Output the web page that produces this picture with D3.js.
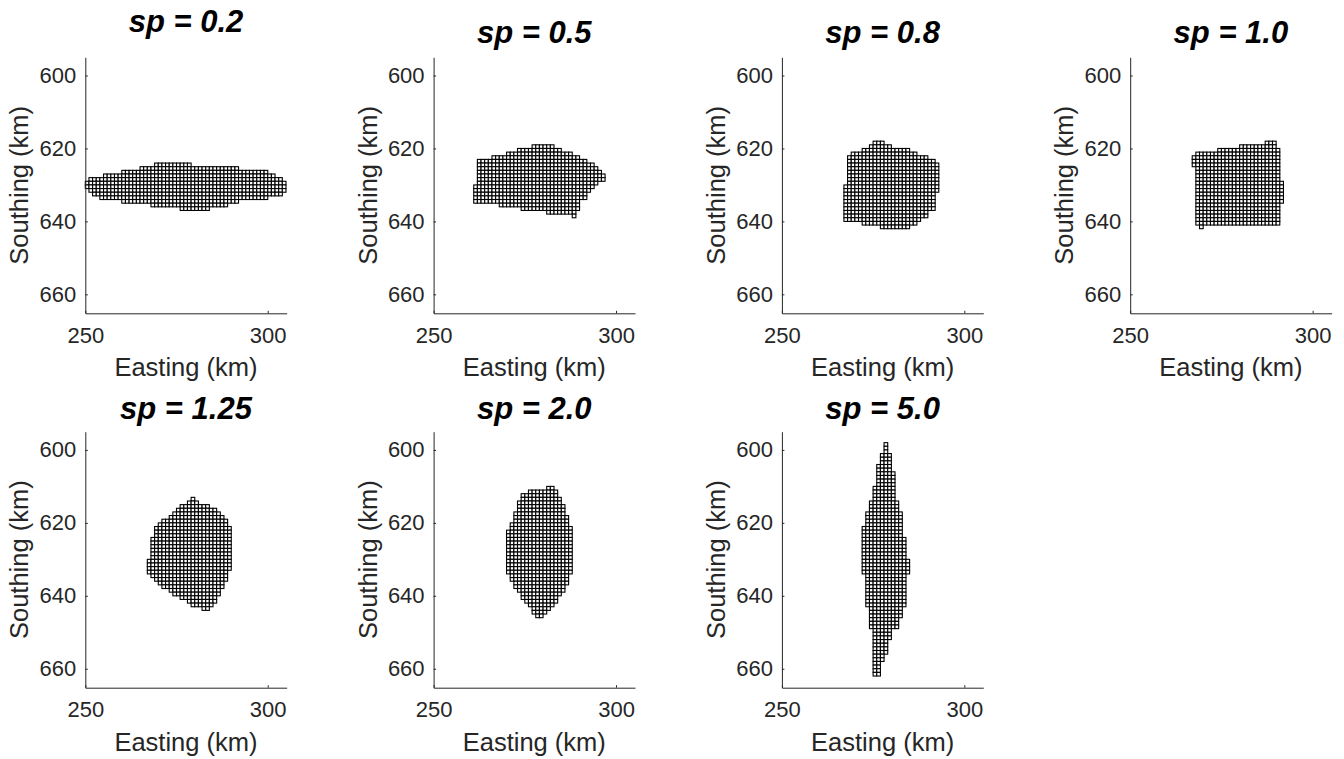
<!DOCTYPE html>
<html>
<head>
<meta charset="utf-8">
<script src="https://cdn.jsdelivr.net/npm/d3@7"></script>
<style>
  body { margin: 0; background: #fff; }
  svg { display: block; }
  text { font-family: "Liberation Sans", Arial, sans-serif; }
</style>
</head>
<body>
<svg width="1344" height="759"></svg>
<script>
// panel titles
const titles = ["sp = 0.2", "sp = 0.5", "sp = 0.8", "sp = 1.0", "sp = 1.25", "sp = 2.0", "sp = 5.0"];
const xTicks = [250, 300];
const yTicks = [600, 620, 640, 660];

// each shape: southing of first row, then left / right easting edge of every 1 km row
const top02 = 624;
const left02 = [269,265,260,255,251,250,250,251,252,254,260,268,276];
const right02 = [279,292,300,302,304,305,305,305,304,300,292,289,284];

const top05 = 619;
const left05 = [277,273,270,266,262,262,262,262,262,262,262,261,261,261,261,261,268,274,281,288];
const right05 = [283,285,288,290,292,294,295,296,297,297,295,294,293,292,292,290,290,290,289,289];

const top08 = 618;
const left08 = [275,274,272,269,268,268,268,268,268,268,268,268,267,267,267,267,267,267,267,267,267,267,272,277];
const right08 = [278,280,285,287,290,292,293,293,293,293,293,293,293,293,292,292,292,292,292,290,290,288,287,285];

const top10 = 618;
const left10 = [287,280,274,268,267,267,267,268,268,268,268,268,268,268,268,268,268,268,268,268,268,268,268,269];
const right10 = [290,290,291,291,291,291,291,291,291,291,291,292,292,292,292,292,292,291,291,291,291,291,291,270];

const top125 = 613;
const left125 = [279,278,276,275,274,273,271,270,269,269,269,268,268,268,268,268,268,267,267,267,267,268,269,270,271,273,274,276,278,279,282];
const right125 = [280,281,284,286,287,288,289,289,290,290,290,290,290,290,290,290,290,290,290,290,289,289,289,288,288,287,287,286,286,285,284];

const top20 = 610;
const left20 = [281,276,274,274,273,273,273,272,272,272,271,271,270,270,270,270,270,270,270,270,270,270,270,270,271,271,272,272,273,274,274,275,276,277,277,278];
const right20 = [283,284,284,285,285,286,286,286,287,287,287,288,288,288,288,288,288,288,288,288,288,288,288,288,287,287,287,286,286,285,284,284,283,282,281,280];

const top50 = 598;
const left50 = [278,278,278,277,277,277,276,276,276,276,276,276,275,275,275,275,274,274,274,273,273,273,273,272,272,272,272,272,272,272,272,272,272,272,272,272,273,273,273,273,273,273,273,273,273,274,274,274,274,274,274,275,275,275,275,275,275,275,275,275,275,275,275,275];
const right50 = [279,279,279,280,280,280,280,280,281,281,281,281,281,281,281,281,282,282,282,283,283,283,283,283,283,283,284,284,284,284,284,284,285,285,285,285,284,284,284,284,284,284,284,284,284,283,283,283,282,282,282,280,280,280,279,279,279,279,278,278,277,277,277,277];

const shapes = [
  [top02, left02, right02], [top05, left05, right05], [top08, left08, right08], [top10, left10, right10],
  [top125, left125, right125], [top20, left20, right20], [top50, left50, right50]
];

const svg = d3.select("svg");
const colX = [85.3, 433.6, 781.9, 1130.2];
const rowY = [57.3, 431.7];
const titleY = [[32, 43, 43, 43], [419, 419, 419]];
const w = 201.4, h = 256;
const axisColor = "#262626";

const x = d3.scaleLinear().domain([250, 305.2]).range([0, w]);
const y = d3.scaleLinear().domain([595, 665.2]).range([0, h]);

shapes.forEach((shape, i) => {
  const r = Math.floor(i / 4), c = i % 4;
  const g = svg.append("g").attr("transform", `translate(${colX[c]},${rowY[r]})`);

  // unfold rows into 1 km cells
  const [top, lefts, rights] = shape;
  const cells = [];
  lefts.forEach((l, k) => {
    d3.range(l, rights[k]).forEach(e => cells.push({ e: e, s: top + k }));
  });

  g.selectAll("rect.cell")
    .data(cells)
    .join("rect")
    .attr("class", "cell")
    .attr("x", d => x(d.e))
    .attr("y", d => y(d.s))
    .attr("width", x(251) - x(250))
    .attr("height", y(596) - y(595))
    .attr("fill", "#fff")
    .attr("stroke", "#000")
    .attr("stroke-width", 1.1);

  const yAxis = d3.axisLeft(y).tickValues(yTicks).tickSizeInner(-2.5).tickSizeOuter(0).tickPadding(9);
  const xAxis = d3.axisBottom(x).tickValues(xTicks).tickSizeInner(-2.5).tickSizeOuter(0).tickPadding(14);

  const ya = g.append("g").call(yAxis);
  const xa = g.append("g").attr("transform", `translate(0,${h})`).call(xAxis);
  [ya, xa].forEach(a => {
    a.selectAll("path, line").attr("stroke", axisColor);
    a.selectAll("text").attr("fill", axisColor).style("font-size", "22px");
  });

  g.append("text")
    .attr("x", w / 2).attr("y", h + 63)
    .attr("text-anchor", "middle")
    .attr("fill", axisColor)
    .style("font-size", "25.5px")
    .text("Easting (km)");

  g.append("text")
    .attr("transform", `translate(-57,${h / 2}) rotate(-90)`)
    .attr("text-anchor", "middle")
    .attr("fill", axisColor)
    .style("font-size", "25.5px")
    .text("Southing (km)");

  svg.append("text")
    .attr("x", colX[c] + w / 2).attr("y", titleY[r][c])
    .attr("text-anchor", "middle")
    .attr("fill", "#000")
    .style("font-size", "31px")
    .style("font-weight", "bold")
    .style("font-style", "italic")
    .text(titles[i]);
});
</script>
</body>
</html>
